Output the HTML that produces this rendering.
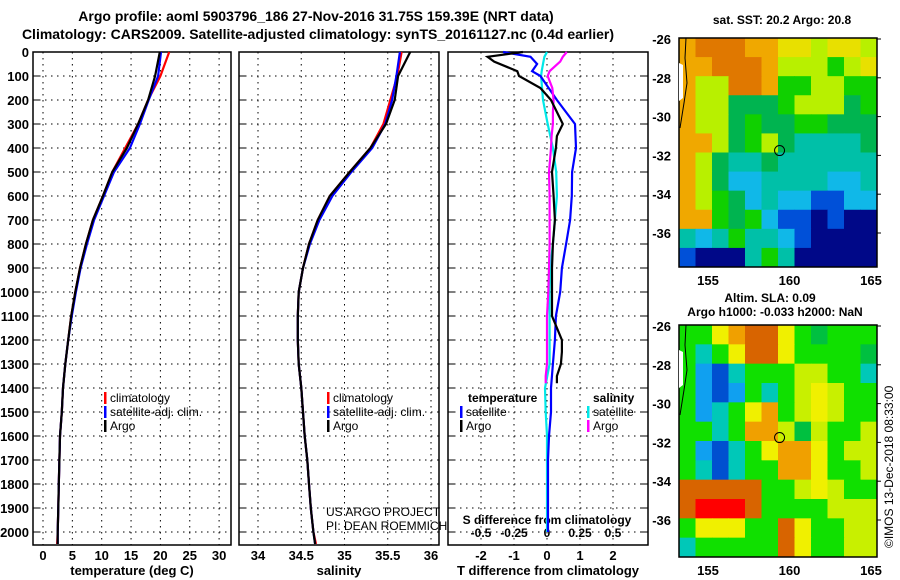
<!DOCTYPE html>
<html><head><meta charset="utf-8">
<style>
body{margin:0;background:#fff;}
svg{display:block;font-family:"Liberation Sans",sans-serif;font-weight:bold;}
</style></head>
<body>
<svg id="chart" width="900" height="580" viewBox="0 0 900 580" xmlns="http://www.w3.org/2000/svg">
<text x="316" y="21" font-size="14" text-anchor="middle">Argo profile: aoml 5903796_186 27-Nov-2016 31.75S 159.39E (NRT data)</text>
<text x="318" y="39" font-size="14" text-anchor="middle">Climatology: CARS2009. Satellite-adjusted climatology: synTS_20161127.nc (0.4d earlier)</text>
<g id="g"></g>
</svg>
<script>
// ---- data ----
const depths = [0,100,200,300,400,500,600,700,800,900,1000,1100,1200,1300,1400,1500,1600,1700,1800,1900,2000,2050];
const tempClim = [21.5,20,17.9,16.2,14,11.8,10.2,8.5,7.3,6.3,5.5,4.8,4.3,3.8,3.4,3.2,2.9,2.8,2.7,2.6,2.5,2.4];
const tempSat  = [20.1,19.6,18,16.5,14.8,12.1,10.4,8.7,7.5,6.4,5.6,4.9,4.3,3.8,3.4,3.2,2.9,2.8,2.7,2.6,2.5,2.5];
const tempArgo = [19.9,19.1,17.9,16.2,14.3,11.8,10.2,8.5,7.3,6.3,5.5,4.8,4.3,3.8,3.4,3.2,2.9,2.8,2.7,2.6,2.5,2.5];
const salClim = [35.66,35.61,35.53,35.45,35.3,35.06,34.83,34.69,34.59,34.52,34.47,34.46,34.46,34.47,34.5,34.52,34.54,34.57,34.59,34.61,34.64,34.67];
const salSat  = [35.64,35.6,35.55,35.47,35.32,35.08,34.86,34.71,34.6,34.52,34.47,34.46,34.46,34.47,34.5,34.52,34.54,34.57,34.59,34.61,34.64,34.66];
const salArgo = [35.76,35.62,35.58,35.48,35.3,35.06,34.83,34.69,34.59,34.52,34.47,34.46,34.46,34.47,34.5,34.52,34.54,34.57,34.59,34.61,34.64,34.66];
const diffDepthsA = [0,20,40,80,100,150,200,250,300,350,400,500,600,700,800,900,1000,1100,1200,1250,1300,1350,1380];
const tDiffArgo = [-0.73,-1.8,-1.6,-0.9,-0.85,-0.2,0.12,0.3,0.48,0.3,0.27,0.15,0.2,0.24,0.18,0.15,0.15,0.15,0.45,0.45,0.42,0.3,0.3];
const sDiffArgo = [0.15,0.12,0.1,0.02,0.005,0.04,0.05,0.045,0.045,0.035,0.03,0.015,0.02,0.02,0.02,0.015,0.01,0.0,0.0,0.0,0.0,-0.01,-0.01];
const diffDepthsS = [0,20,50,80,100,200,300,400,500,600,700,800,900,1000,1100,1200,1300,1400,1500,1600,1700,1800,1900,2000];
const tDiffSat = [-1.33,-0.5,-0.3,-0.45,-0.2,0.3,0.85,0.88,0.76,0.75,0.7,0.58,0.45,0.4,0.27,0.24,0.18,0.12,0.12,0.06,0.03,0.03,0.03,0.03];
const sDiffSat = [0,-0.02,-0.03,-0.04,-0.045,-0.03,0.005,0.045,0.07,0.075,0.06,0.045,0.025,0.02,0.02,0.02,0.02,-0.015,-0.01,0,0,0,0,0];
const depthTicks = [0,100,200,300,400,500,600,700,800,900,1000,1100,1200,1300,1400,1500,1600,1700,1800,1900,2000];
const tempTicks = [0,5,10,15,20,25,30];
const salTicks = [34,34.5,35,35.5,36];
const tdTicks = [-2,-1,0,1,2];
const sdTicks = [-0.5,-0.25,0,0.25,0.5];
const sdTickLabels = ["-0.5","-0.25","0","0.25","0.5"];
const lonTicks = [155,160,165];
const latTicks = [-26,-28,-30,-32,-34,-36];
const sstGrid = [
"oOOOooYYyYYy","ooOOOoyyyGyY","oyyOOoGGyyGG","oyygggGyyygG","oyygGggGGggg","ooygGygccccg",
"oygccgcccccc","oygCCccccCCc","oyGgCcCCbbCC","ooGgGCbbBbBB","cCcGccCbBBBB","bBBBcGcBBBBB"];
const slaGrid = [
"GGYoOOYGgGGG","GcGYOOYGGGGg","GlbcGGGyyGGc","GlblGcGyYyGG","GlcGYoGyYyGG","GGcGooygyGGy",
"GlbcGYooYGyy","GcbcGGooYGGy","OOOOOGGyYyGG","ORRROGGGGyyy","GYYYGGOYGGyy","cGGGGGOYGGyy"];
const sstColors = {O:"#e07800",o:"#f0a800",Y:"#e8e000",y:"#b8f000",G:"#10d000",g:"#00b450",c:"#00c0a8",C:"#10b8e8",b:"#0050d8",B:"#000888"};
const slaColors = {R:"#ff0000",O:"#d86400",o:"#f0a000",Y:"#f0f000",y:"#c8f000",G:"#10e000",g:"#00c040",c:"#00c8b8",l:"#10a0f0",b:"#0050d0"};

// ---- helpers ----
const NS="http://www.w3.org/2000/svg";
const G=document.getElementById('g');
function mk(tag,attrs,parent){const e=document.createElementNS(NS,tag);for(const k in attrs)e.setAttribute(k,attrs[k]);(parent||G).appendChild(e);return e;}
const yD = d => 52 + d*0.24;
const PT=52, PB=545;

function panel(name,x0,x1,xs,ticks,labels,xlab,labelY){
  const box=mk('rect',{x:x0,y:PT,width:x1-x0,height:PB-PT,fill:'none',stroke:'#000','stroke-width':1.5});
  
  depthTicks.forEach(d=>{
    const l=mk('line',{x1:x0,x2:x1,y1:yD(d),y2:yD(d),stroke:'#000','stroke-width':1,'stroke-dasharray':'1.5,4.5'});
    
    const t=mk('line',{x1:x0,x2:x0+7,y1:yD(d),y2:yD(d),stroke:'#000','stroke-width':1});
    
  });
  ticks.forEach((v,i)=>{
    const x=xs(v);
    const l=mk('line',{x1:x,x2:x,y1:PT,y2:PB,stroke:'#000','stroke-width':1,'stroke-dasharray':'1.5,4.5'});
    
    if(labels){const t=mk('text',{x:x,y:labelY,'font-size':13,'text-anchor':'middle'});t.textContent=labels[i];
      }
  });
  const t=mk('text',{x:(x0+x1)/2,y:575,'font-size':13,'text-anchor':'middle'});t.textContent=xlab;
  
}
function line(name,xs,xv,dv,color){
  const pts=xv.map((v,i)=>xs(v).toFixed(1)+','+yD(dv[i]).toFixed(1)).join(' ');
  const p=mk('polyline',{points:pts,fill:'none',stroke:color,'stroke-width':2.2});
  
}
function legend(name,x,y,items){
  items.forEach((it,i)=>{
    const yy=y+i*14;
    const r=mk('rect',{x:x,y:yy-10,width:2.5,height:12,fill:it[1]});
    
    const t=mk('text',{x:x+6,y:yy,'font-size':12,'font-weight':'normal'});t.textContent=it[0];
    
  });
}

// depth labels
depthTicks.forEach(d=>{const t=mk('text',{x:29,y:yD(d)+5,'font-size':13,'text-anchor':'end'});t.textContent=d;
  });

// panel 1 temperature
const xT=v=>43+v*5.87;
panel('temperature-panel',33,231,xT,tempTicks,tempTicks,'temperature (deg C)',560);
line('temp-climatology-line',xT,tempClim,depths,'#ff0000');
line('temp-satellite-line',xT,tempSat,depths,'#0000ff');
line('temp-argo-line',xT,tempArgo,depths,'#000000');
legend('temp-legend',104,402,[['climatology','#ff0000'],['satellite-adj. clim.','#0000ff'],['Argo','#000']]);

// panel 2 salinity
const xS=v=>258+(v-34)*86.5;
panel('salinity-panel',239,439,xS,salTicks,salTicks,'salinity',560);
line('sal-climatology-line',xS,salClim,depths,'#ff0000');
line('sal-satellite-line',xS,salSat,depths,'#0000ff');
line('sal-argo-line',xS,salArgo,depths,'#000000');
legend('sal-legend',327,402,[['climatology','#ff0000'],['satellite-adj. clim.','#0000ff'],['Argo','#000']]);
[['US ARGO PROJECT',516],['PI: DEAN ROEMMICH',530]].forEach(a=>{const t=mk('text',{x:326,y:a[1],'font-size':12,'font-weight':'normal'});t.textContent=a[0];
  });

// panel 3 differences
const xTD=v=>547+v*33;
const xSD=v=>547+v*132;
panel('difference-panel',448,648,xTD,tdTicks,tdTicks,'T difference from climatology',560);
sdTicks.forEach((v,i)=>{const t=mk('text',{x:xSD(v),y:537,'font-size':12,'text-anchor':'middle'});t.textContent=sdTickLabels[i];
  });
{const t=mk('text',{x:547,y:524,'font-size':12,'text-anchor':'middle'});t.textContent='S difference from climatology';
 }
depthTicks.forEach(d=>{const l=mk('line',{x1:641,x2:648,y1:yD(d),y2:yD(d),stroke:'#000'});
  });
line('s-diff-satellite-line',xSD,sDiffSat,diffDepthsS,'#00e8e8');
line('t-diff-satellite-line',xTD,tDiffSat,diffDepthsS,'#0000ff');
line('s-diff-argo-line',xSD,sDiffArgo,diffDepthsA,'#ff00ff');
line('t-diff-argo-line',xTD,tDiffArgo,diffDepthsA,'#000000');
{const t=mk('text',{x:468,y:402,'font-size':12});t.textContent='temperature';}
{const t=mk('text',{x:593,y:402,'font-size':12});t.textContent='salinity';}
legend('t-diff-legend',460,416,[['satellite','#0000ff'],['Argo','#000']]);
legend('s-diff-legend',587,416,[['satellite','#00e8e8'],['Argo','#ff00ff']]);

// maps
const lonX=v=>708+(v-155)*16.3;
function map(name,y0,y1,grid,colors,title){
  const latY=v=>y0+1+(-26-v)*19.4;
  const rows=grid.length, cols=grid[0].length;
  const cw=(877-679)/cols, ch=(y1-y0)/rows;
  grid.forEach((row,r)=>{[...row].forEach((c,k)=>{
    const rc=mk('rect',{x:679+k*cw,y:y0+r*ch,width:cw+0.5,height:ch+0.5,fill:colors[c]});
    
  });});
  const b=mk('rect',{x:679,y:y0,width:198,height:y1-y0,fill:'none',stroke:'#000','stroke-width':1.5});
  
  const coast=mk('path',{d:`M686 ${y0} L685 ${y0+20} L687 ${y0+45} L684 ${y0+65} L680 ${y0+90}`,fill:'none',stroke:'#000','stroke-width':1});
  
  const land=mk('path',{d:`M679 ${y0+25} L683 ${y0+27} L683 ${y0+60} L679 ${y0+63}Z`,fill:'#fff'});
  
  const ci=mk('circle',{cx:lonX(159.39),cy:latY(-31.75),r:5,fill:'none',stroke:'#000','stroke-width':1});
  
  latTicks.forEach(v=>{const t=mk('text',{x:671,y:latY(v)+5,'font-size':13,'text-anchor':'end'});t.textContent=v;
    
    const l=mk('line',{x1:877,x2:881,y1:latY(v),y2:latY(v),stroke:'#000'});});
  lonTicks.forEach(v=>{const t=mk('text',{x:lonX(v),y:y1+18,'font-size':13,'text-anchor':'middle'});t.textContent=v;
    });
  title.forEach((s,i)=>{const t=mk('text',{x:s[1],y:s[2],'font-size':12,'text-anchor':'middle'});t.textContent=s[0];
    });
}
map('sst-map',38,267,sstGrid,sstColors,[['sat. SST: 20.2 Argo: 20.8',782,24]]);
map('sla-map',325,557,slaGrid,slaColors,[['Altim. SLA: 0.09',770,302],['Argo h1000: -0.033 h2000: NaN',775,316]]);
{const t=mk('text',{x:0,y:0,'font-size':12,'font-weight':'normal',transform:'translate(893,548) rotate(-90)'});t.textContent='©IMOS 13-Dec-2018 08:33:00';
 }
</script>
</body></html>
